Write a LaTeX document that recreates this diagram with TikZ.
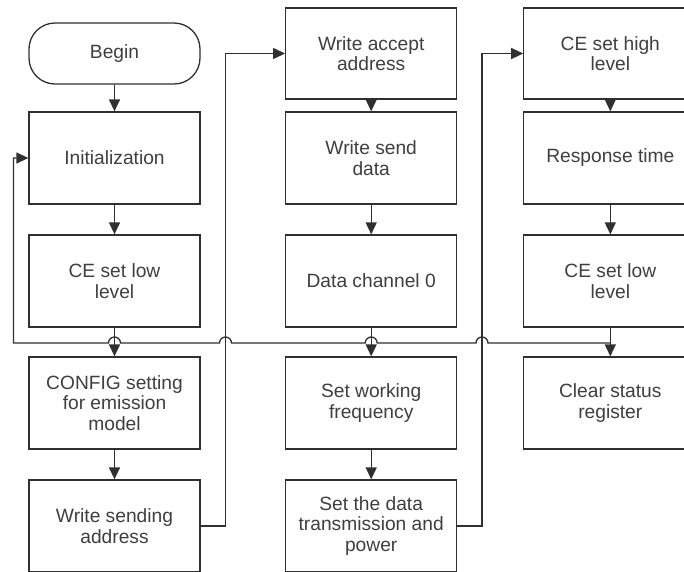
\documentclass[tikz,border=0pt]{standalone}
\usepackage{fontspec}
\setmainfont{Liberation Sans}
\usetikzlibrary{arrows.meta}
\definecolor{lncol}{HTML}{303030}
\definecolor{txcol}{HTML}{3F3F3F}
\begin{document}
\begin{tikzpicture}[x=1pt,y=1pt,
 box/.style={draw=lncol, line width=1.3pt, minimum width=171pt, minimum height=92pt, align=center, text=txcol, font=\fontsize{19.2}{20.5}\selectfont, inner sep=0pt},
 wbox/.style={box, minimum width=173pt},
 term/.style={box, rounded corners=26pt, minimum height=61pt},
 wire/.style={draw=lncol, line width=1.3pt},
 arr/.style={wire, -{Triangle[length=12pt,width=11pt]}}]
\useasboundingbox (0,0) rectangle (684,-571);
\clip (0,0) rectangle (684,-571);
\fill[white] (0,0) rectangle (684,-571);

\node[term] (begin) at (114.5,-53.5) {Begin};
\node[box] (init) at (114.5,-158) {Initialization};
\node[box] (ce1) at (114.5,-281) {CE set low\\level};
\node[box] (cfg) at (114.5,-403) {CONFIG setting\\for emission\\model};
\node[box] (wsa) at (114.5,-526) {Write sending\\address};

\node[box,minimum height=91pt] (wacc) at (371.2,-53.5) {Write accept\\address};
\node[box] (wsd) at (371.2,-158) {Write send\\data};
\node[box] (dc0) at (371.2,-281) {Data channel 0};
\node[box] (swf) at (371.2,-403) {Set working\\frequency};
\node[box] (sdt) at (371.2,-526) {Set the data\\transmission and\\power};

\node[wbox,minimum height=91pt] (ceh) at (610.3,-53.5) {CE set high\\level};
\node[wbox] (rt) at (610.3,-158) {Response time};
\node[wbox] (ce2) at (610.3,-281) {CE set low\\level};
\node[wbox] (clr) at (610.3,-403) {Clear status\\register};

\coordinate (v1) at (225.5,0);
\coordinate (v2) at (482,0);
\coordinate (J) at (610.3,-343);

\draw[arr] (begin) -- (init);
\draw[arr] (init) -- (ce1);
\draw[arr] (cfg) -- (wsa);
\draw[arr] (wsa.east) -- (wsa.east -| v1) |- (wacc.west);
\draw[arr] (wacc) -- (wsd);
\draw[arr] (wsd) -- (dc0);
\draw[arr] (swf) -- (sdt);
\draw[arr] (sdt.east) -- (sdt.east -| v2) |- (ceh.west);
\draw[arr] (ceh) -- (rt);
\draw[arr] (rt) -- (ce2);
\draw[arr] (ce2) -- (clr);

\draw[arr] (J) -- (488,-343) arc[start angle=0,end angle=180,radius=6]
  -- (377.2,-343) arc[start angle=0,end angle=180,radius=6]
  -- (231.5,-343) arc[start angle=0,end angle=180,radius=6]
  -- (120.5,-343) arc[start angle=0,end angle=180,radius=6]
  -- (13.5,-343) |- (init.west);

\draw[arr] (ce1) -- (cfg);
\draw[arr] (dc0) -- (swf);
\end{tikzpicture}
\end{document}
